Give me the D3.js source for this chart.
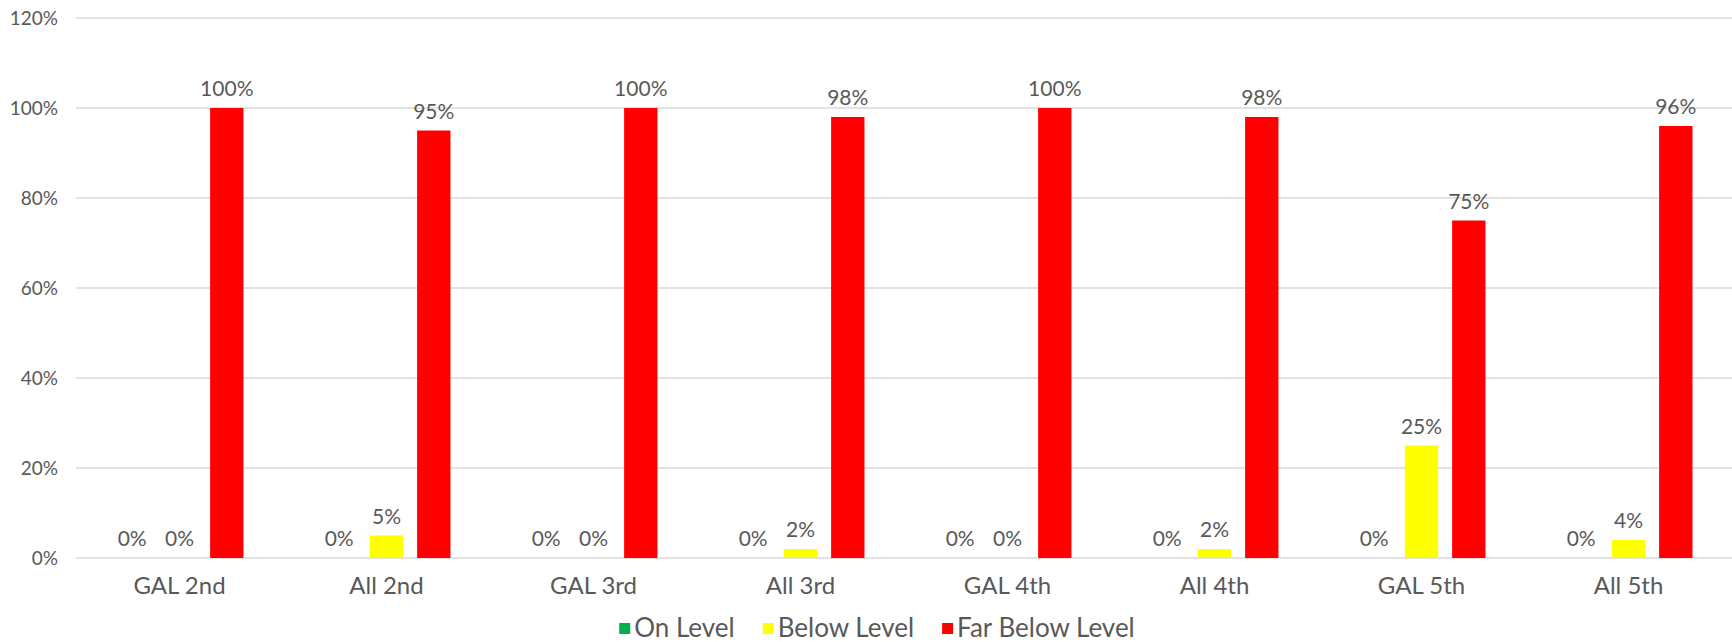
<!DOCTYPE html>
<html>
<head>
<meta charset="utf-8">
<script src="https://cdn.jsdelivr.net/npm/d3@7"></script>
<style>
  html, body { margin: 0; padding: 0; background: #fff; }
  svg { display: block; }
  text { font-family: Lato, "Open Sans", sans-serif; fill: #595959; }
</style>
</head>
<body>
<svg id="chart" width="1732" height="642"></svg>
<script>
const categories = ["GAL 2nd", "All 2nd", "GAL 3rd", "All 3rd", "GAL 4th", "All 4th", "GAL 5th", "All 5th"];
const seriesNames = ["On Level", "Below Level", "Far Below Level"];
const seriesColors = ["#00b050", "#ffff00", "#ff0000"];
const onLevel = [0, 0, 0, 0, 0, 0, 0, 0];
const belowLevel = [0, 5, 0, 2, 0, 2, 25, 4];
const farBelowLevel = [100, 95, 100, 98, 100, 98, 75, 96];
const yTicks = [0, 20, 40, 60, 80, 100, 120];

const seriesValues = [onLevel, belowLevel, farBelowLevel];

const W = 1732, H = 642;
const margin = { left: 76, right: 0, top: 18, bottom: 84 };
const svg = d3.select("#chart");

const x0 = d3.scaleBand()
  .domain(categories)
  .range([margin.left, W - margin.right])
  .paddingInner(0.382)
  .paddingOuter(0.191);

const x1 = d3.scaleBand()
  .domain(seriesNames)
  .range([0, x0.bandwidth()])
  .paddingInner(0.295)
  .paddingOuter(0);

const y = d3.scaleLinear()
  .domain([0, 120])
  .range([H - margin.bottom, margin.top]);

// gridlines
const grid = svg.append("g").attr("class", "grid");
grid.selectAll("line")
  .data(yTicks)
  .join("line")
  .attr("x1", margin.left)
  .attr("x2", W - margin.right)
  .attr("y1", d => y(d))
  .attr("y2", d => y(d))
  .attr("stroke", "#d9d9d9")
  .attr("stroke-width", 1.3);

// y axis labels
const yAxis = d3.axisLeft(y).tickValues(yTicks).tickFormat(d => d + "%").tickSize(0).tickPadding(18);
const yg = svg.append("g").attr("transform", `translate(${margin.left},0)`).call(yAxis);
yg.select(".domain").remove();
yg.selectAll("text").style("font-size", "19px").attr("fill", "#595959").style("font-family", "Lato, sans-serif");

// bars
const groups = svg.append("g").selectAll("g")
  .data(categories)
  .join("g")
  .attr("transform", d => `translate(${x0(d)},0)`);

groups.selectAll("rect")
  .data((c, i) => seriesNames.map((s, k) => ({ s, k, v: seriesValues[k][i] })))
  .join("rect")
  .attr("x", d => x1(d.s))
  .attr("width", x1.bandwidth())
  .attr("y", d => y(d.v))
  .attr("height", d => y(0) - y(d.v))
  .attr("fill", d => seriesColors[d.k]);

groups.selectAll("text.lbl")
  .data((c, i) => seriesNames.map((s, k) => ({ s, k, v: seriesValues[k][i] })))
  .join("text")
  .attr("class", "lbl")
  .attr("x", d => x1(d.s) + x1.bandwidth() / 2)
  .attr("y", d => y(d.v) - 12)
  .attr("text-anchor", "middle")
  .style("font-size", "21px")
  .text(d => d.v + "%");

// x axis labels
const xAxis = d3.axisBottom(x0).tickSize(0).tickPadding(19);
const xg = svg.append("g").attr("transform", `translate(0,${y(0)})`).call(xAxis);
xg.select(".domain").remove();
xg.selectAll("text").style("font-size", "24px").attr("fill", "#595959").style("font-family", "Lato, sans-serif");

// legend
const legend = svg.append("g");
const items = legend.selectAll("g")
  .data(seriesNames)
  .join("g");
items.append("rect")
  .attr("width", 11).attr("height", 11)
  .attr("y", -14)
  .attr("fill", (d, i) => seriesColors[i]);
items.append("text")
  .attr("x", 15)
  .style("font-size", "26px")
  .text(d => d);
let xpos = 0;
const widths = [];
items.each(function () {
  const w = this.getBBox().width;
  widths.push(w);
});
items.attr("transform", (d, i) => {
  const t = `translate(${xpos},0)`;
  xpos += widths[i] + 28;
  return t;
});
const total = xpos - 28;
legend.attr("transform", `translate(${877 - total / 2},${637})`);
</script>
</body>
</html>
